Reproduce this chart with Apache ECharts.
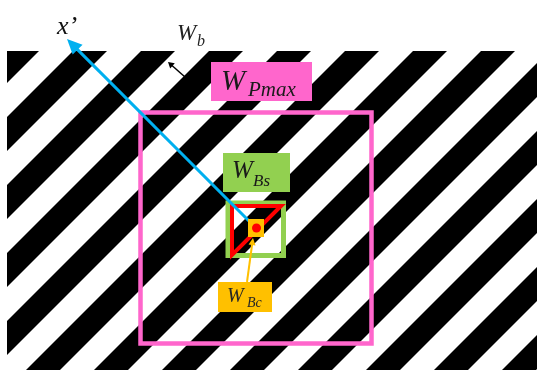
<!DOCTYPE html>
<html>
<head>
<meta charset="utf-8">
<script src="https://cdn.jsdelivr.net/npm/echarts@6/dist/echarts.min.js"></script>
<style>
html,body{margin:0;padding:0;background:#fff;}
#c{width:537px;height:370px;}
</style>
</head>
<body>
<div id="c"></div>
<script>
// ---- data (diagram units = pixels of the 537x370 scene) ----
// x position, on the top edge of the striped field, where each black stripe begins
const stripeStarts = [5, 73, 141, 209, 277, 345, 413, 481, 549, 617, 685, 753, 821];
// label texts: main symbol + subscript
const labelMain = ['W', 'W', 'W', 'W'];
const labelSub  = ['Pmax', 'Bs', 'Bc', 'b'];
const axisLabel = ['x\u2019'];

// ---- layout / geometry ----
const field = {x0: 7, y0: 51, x1: 537, y1: 370};
const stripeW = 34;
const FONT = '"Liberation Serif", "DejaVu Serif", serif';

const pinkBig = [140.5, 112.5, 371.5, 343.5];
const greenSq = [228, 203, 283.5, 255.5];
const redTri = [[232, 206], [281, 206], [232, 255]];
const orangeSq = [248, 219, 264, 237];
const redDot = [256.5, 228];
const blueArrow = [[256, 228], [67, 39]];
const wbArrow = [[185, 77], [168, 62]];
const orangeArrow = [[247, 282], [253, 238]];

const boxes = [
  {r: [211, 62, 312, 101], fill: '#FF66CC'},
  {r: [223, 153, 290, 192], fill: '#92D050'},
  {r: [218, 282, 272, 312], fill: '#FFC000'}
];
// text placement for the four labels: [mainX, mainY, mainSize, subX, subY, subSize, color]
const textPos = [
  [221, 82, 29, 248, 90, 21, '#1a1a1a'],
  [232, 171, 25, 253, 182, 17, '#1a1a1a'],
  [227, 296.5, 20, 247, 303.5, 14, '#262626'],
  [177, 34, 23, 197, 42, 16, '#222']
];
const axisLabelPos = [57, 27, 26];

function txt(p, s, size, fill) {
  return {
    type: 'text', x: p[0], y: p[1],
    style: {
      text: s, fill: fill, font: 'italic ' + size + 'px ' + FONT,
      textAlign: 'left', textVerticalAlign: 'middle', align: 'left', verticalAlign: 'middle'
    }
  };
}
function arrowHead(tip, from, len, half, color) {
  const dx = tip[0] - from[0], dy = tip[1] - from[1];
  const L = Math.hypot(dx, dy), ux = dx / L, uy = dy / L;
  const bx = tip[0] - ux * len, by = tip[1] - uy * len;
  return {
    type: 'polygon',
    shape: {points: [tip, [bx - uy * half, by + ux * half], [bx + uy * half, by - ux * half]]},
    style: {fill: color}
  };
}
function lineTo(a, b, color, w) {
  return {type: 'line', shape: {x1: a[0], y1: a[1], x2: b[0], y2: b[1]}, style: {stroke: color, lineWidth: w}};
}
function shorten(a, b, d) {
  const dx = b[0] - a[0], dy = b[1] - a[1], L = Math.hypot(dx, dy);
  return [b[0] - dx / L * d, b[1] - dy / L * d];
}

const chart = echarts.init(document.getElementById('c'));

const option = {
  animation: false,
  backgroundColor: '#ffffff',
  grid: [
    {left: field.x0, top: field.y0, right: 537 - field.x1, bottom: 370 - field.y1, show: false},
    {left: 0, top: 0, right: 0, bottom: 0, show: false}
  ],
  xAxis: [
    {type: 'value', gridIndex: 0, min: field.x0, max: field.x1, show: false},
    {type: 'value', gridIndex: 1, min: 0, max: 537, show: false}
  ],
  yAxis: [
    {type: 'value', gridIndex: 0, min: field.y0, max: field.y1, inverse: true, show: false},
    {type: 'value', gridIndex: 1, min: 0, max: 370, inverse: true, show: false}
  ],
  series: [
    {
      type: 'custom', name: 'stripes', xAxisIndex: 0, yAxisIndex: 0, clip: true,
      data: stripeStarts.map(v => [v]),
      renderItem: function (params, api) {
        const a = api.value(0), D = 340, t = field.y0;
        const pts = [[a, t], [a + stripeW, t], [a + stripeW - D, t + D], [a - D, t + D]]
          .map(p => api.coord(p));
        return {type: 'polygon', shape: {points: pts}, style: {fill: '#000'}};
      }
    },
    {
      type: 'custom', name: 'annotations', xAxisIndex: 1, yAxisIndex: 1, clip: false,
      data: [[0]],
      renderItem: function (params, api) {
        const c = p => api.coord(p);
        const ch = [];
        // big pink window
        let p0 = c([pinkBig[0], pinkBig[1]]), p1 = c([pinkBig[2], pinkBig[3]]);
        ch.push({type: 'rect', shape: {x: p0[0], y: p0[1], width: p1[0] - p0[0], height: p1[1] - p0[1]},
          style: {fill: null, stroke: '#FF66CC', lineWidth: 4.5}});
        // green square
        p0 = c([greenSq[0], greenSq[1]]); p1 = c([greenSq[2], greenSq[3]]);
        ch.push({type: 'rect', shape: {x: p0[0], y: p0[1], width: p1[0] - p0[0], height: p1[1] - p0[1]},
          style: {fill: null, stroke: '#92D050', lineWidth: 5}});
        // red triangle
        ch.push({type: 'polygon', shape: {points: redTri.map(c)},
          style: {fill: null, stroke: '#FF0000', lineWidth: 4, lineJoin: 'miter'}});
        // blue x' arrow
        const bt = c(blueArrow[1]), bs = c(blueArrow[0]);
        ch.push(lineTo(bs, shorten(bs, bt, 10), '#00B0F0', 3));
        ch.push(arrowHead(bt, bs, 15, 7, '#00B0F0'));
        // orange centre square and red dot
        p0 = c([orangeSq[0], orangeSq[1]]); p1 = c([orangeSq[2], orangeSq[3]]);
        ch.push({type: 'rect', shape: {x: p0[0], y: p0[1], width: p1[0] - p0[0], height: p1[1] - p0[1]},
          style: {fill: '#FFC000'}});
        const d = c(redDot);
        ch.push({type: 'circle', shape: {cx: d[0], cy: d[1], r: 4.5}, style: {fill: '#FF0000'}});
        // orange pointer
        const os = c(orangeArrow[0]), ot = c(orangeArrow[1]);
        ch.push(lineTo(os, shorten(os, ot, 5), '#FFC000', 2));
        ch.push(arrowHead(ot, os, 7, 3.5, '#FFC000'));
        // W_b arrow
        const ws = c(wbArrow[0]), wt = c(wbArrow[1]);
        ch.push(lineTo(ws, shorten(ws, wt, 3), '#000', 1.5));
        ch.push(arrowHead(wt, ws, 6, 3.5, '#000'));
        // label boxes
        boxes.forEach(b => {
          const q0 = c([b.r[0], b.r[1]]), q1 = c([b.r[2], b.r[3]]);
          ch.push({type: 'rect', shape: {x: q0[0], y: q0[1], width: q1[0] - q0[0], height: q1[1] - q0[1]},
            style: {fill: b.fill}});
        });
        // label texts
        textPos.forEach((t, i) => {
          ch.push(txt(c([t[0], t[1]]), labelMain[i], t[2], t[6]));
          ch.push(txt(c([t[3], t[4]]), labelSub[i], t[5], t[6]));
        });
        ch.push(txt(c([axisLabelPos[0], axisLabelPos[1]]), axisLabel[0], axisLabelPos[2], '#111'));
        return {type: 'group', children: ch};
      }
    }
  ]
};
chart.setOption(option);
</script>
</body>
</html>
